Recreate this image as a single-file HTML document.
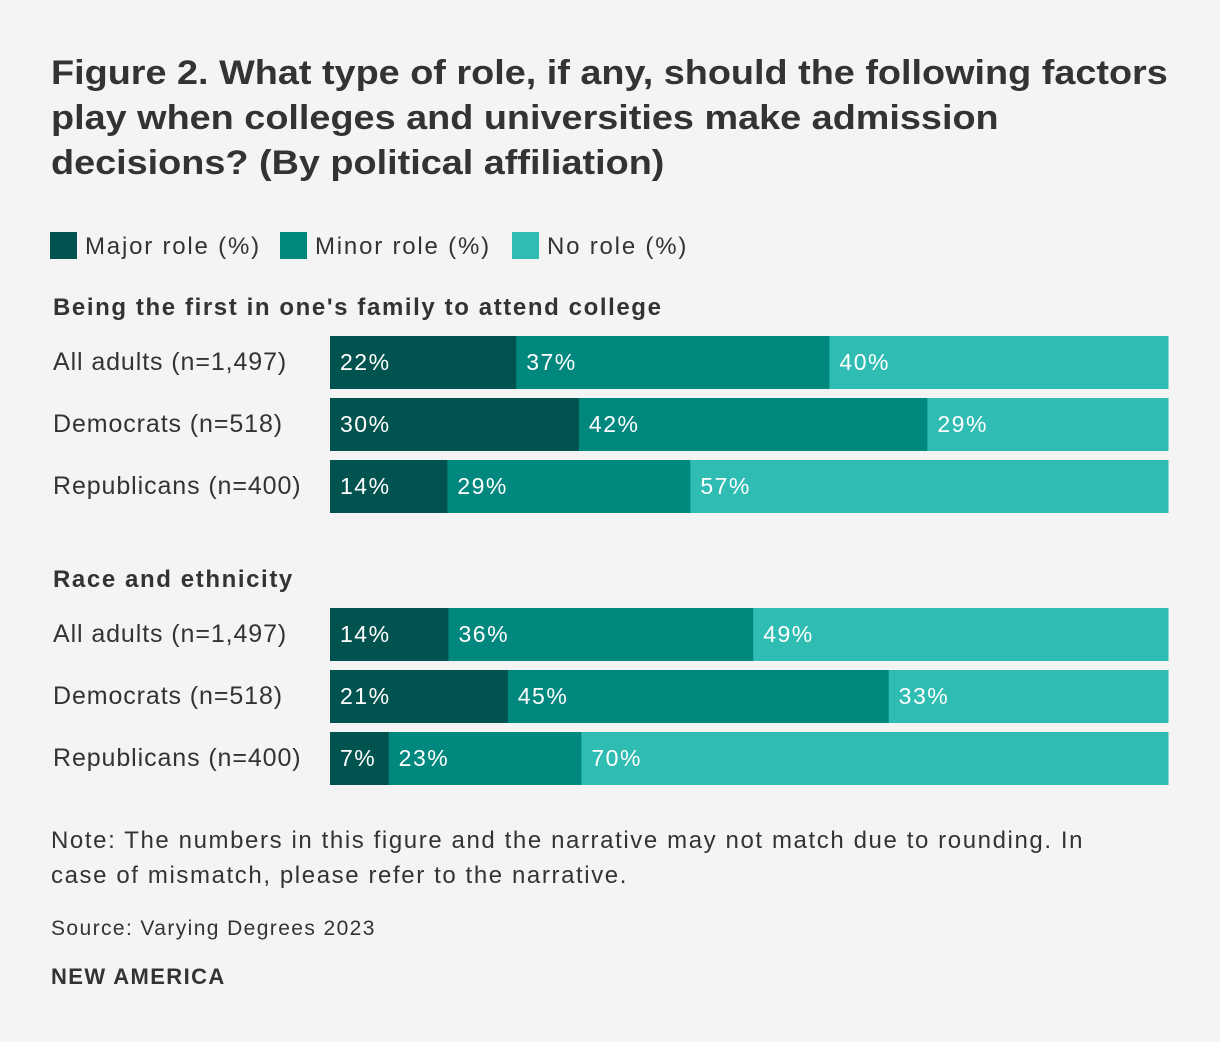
<!DOCTYPE html>
<html><head><meta charset="utf-8">
<style>
body{margin:0;background:#f4f4f4;width:1220px;height:1042px;overflow:hidden;font-family:"Liberation Sans",sans-serif;color:#333;}
#title{position:absolute;left:51px;top:51px;font-size:34px;font-weight:bold;line-height:45px;white-space:nowrap;color:#333;transform:scaleX(1.112);transform-origin:0 0;}
svg{position:absolute;left:0;top:0;}
#note{position:absolute;left:51px;top:823px;font-size:24px;letter-spacing:1.6px;line-height:35px;white-space:nowrap;}
#source{position:absolute;left:51px;top:917px;font-size:21px;letter-spacing:1.4px;}
#brand{position:absolute;left:51px;top:964px;font-size:22px;letter-spacing:1.4px;font-weight:bold;}
</style></head><body>
<div id="title">Figure 2. What type of role, if any, should the following factors<br>play when colleges and universities make admission<br>decisions? (By political affiliation)</div>
<svg id="chart" width="1220" height="1042"></svg>
<div id="note">Note: The numbers in this figure and the narrative may not match due to rounding. In<br>case of mismatch, please refer to the narrative.</div>
<div id="source">Source: Varying Degrees 2023</div>
<div id="brand">NEW AMERICA</div>
<script>
const groups = ["Being the first in one's family to attend college","Race and ethnicity"];
const rowLabels = ["All adults (n=1,497)","Democrats (n=518)","Republicans (n=400)"];
const seriesNames = ["Major role (%)","Minor role (%)","No role (%)"];
const major = [[22,30,14],[14,21,7]];
const minor = [[37,42,29],[36,45,23]];
const none = [[40,29,57],[49,33,70]];
const colors = ["#00534f","#00877e","#2ebcb3"];
const NS="http://www.w3.org/2000/svg";
const svg=document.getElementById('chart');
function mk(t,a,txt){const e=document.createElementNS(NS,t);for(const k in a)e.setAttribute(k,a[k]);if(txt!==undefined)e.textContent=txt;svg.appendChild(e);return e;}
const legX=[50,280,512];
seriesNames.forEach((n,i)=>{
  const r=mk('rect',{x:legX[i],y:232,width:27,height:27,fill:colors[i]});
  
  
  const t=mk('text',{x:legX[i]+35,y:254,'font-size':24,'letter-spacing':1.8,fill:'#333'},n);
  
  
});
const x0=330,W=838,barH=53,rowStep=62;
const groupTop=[336,608];
function xs(v,total){return v/total*W;}
groups.forEach((g,gi)=>{
  const h=mk('text',{x:53,y:groupTop[gi]-21,'font-size':24,'letter-spacing':1.6,'font-weight':'bold',fill:'#333'},g);
  
  
  rowLabels.forEach((lab,ri)=>{
    const y=groupTop[gi]+ri*rowStep;
    const l=mk('text',{x:53,y:y+34,'font-size':25,'letter-spacing':0.9,fill:'#333'},lab);
    
    
    const vals=[major[gi][ri],minor[gi][ri],none[gi][ri]];
    const total=vals.reduce((a,b)=>a+b,0);
    let cx=x0;
    vals.forEach((v,si)=>{
      const w=xs(v,total);
      const r=mk('rect',{x:cx,y:y,width:w+0.5,height:barH,fill:colors[si]});
      
      
      const t=mk('text',{x:cx+10,y:y+34,'font-size':23,'letter-spacing':1.5,fill:'#fff'},v+'%');
      
      
      cx+=w;
    });
  });
});
</script>
</body></html>
